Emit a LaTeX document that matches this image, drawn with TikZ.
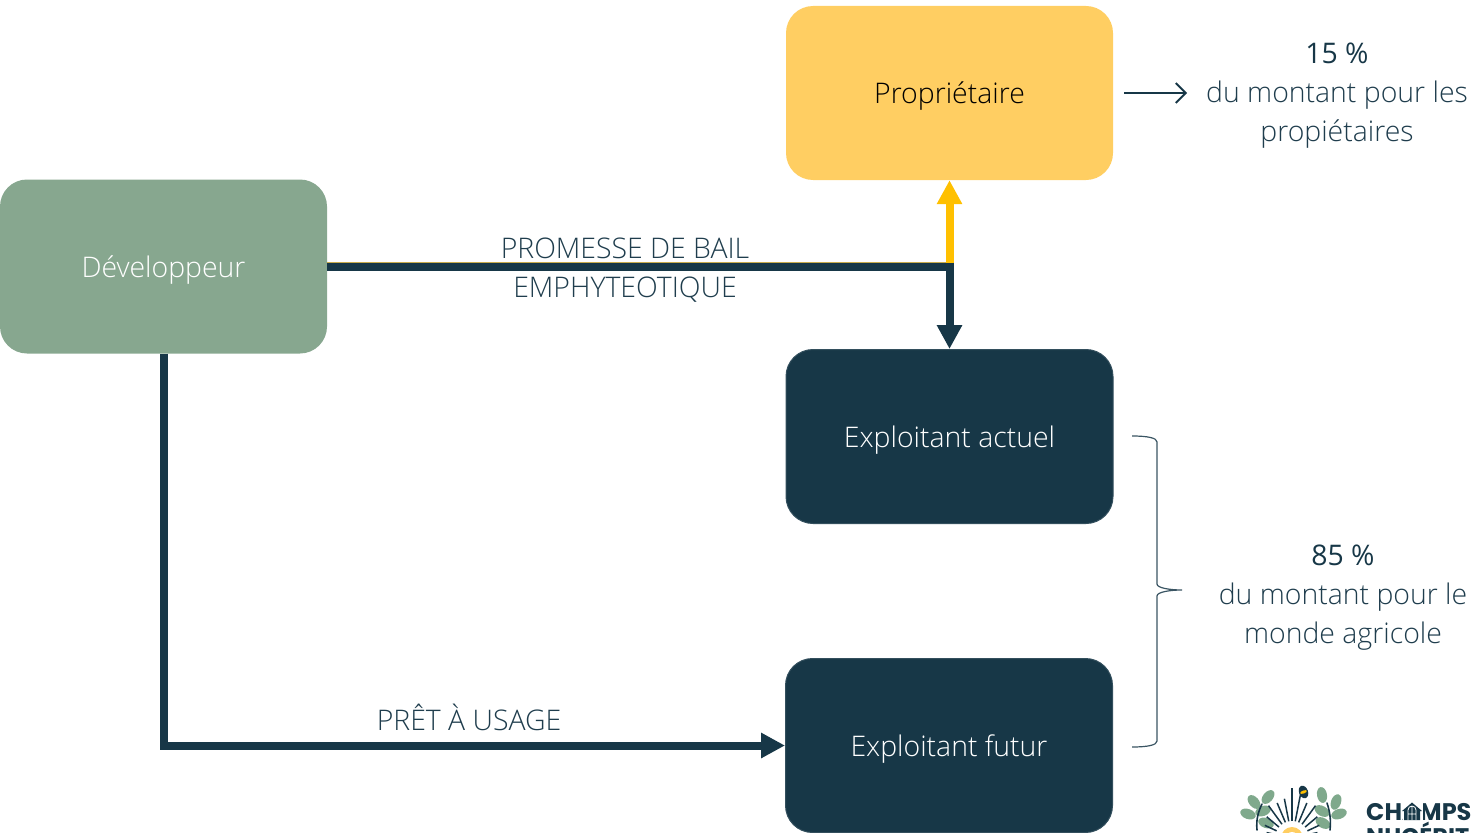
\documentclass[tikz,border=0pt]{standalone}
\usepackage{fontspec}
\setmainfont{Open Sans Light}
\newfontfamily\midfont{Open Sans}
\newfontfamily\logofont{Poppins}[BoldFont={Poppins Bold}]
\usetikzlibrary{arrows.meta,calc}
\definecolor{darkblue}{HTML}{173747}
\definecolor{sage}{HTML}{87A78F}
\definecolor{sun}{HTML}{FFCE62}
\definecolor{amber}{HTML}{FFC000}
\definecolor{inktext}{HTML}{1F3D4D}
\definecolor{leaf}{HTML}{7FA98C}
\tikzset{
  x=1pt,y=-1pt,
  card/.style={minimum width=327pt,minimum height=174pt,rounded corners=27pt,inner sep=0pt,text height=22pt,text depth=0pt,font=\fontsize{28.4}{34}\selectfont},
  label/.style={text=inktext,align=center,font=\fontsize{28.4}{39}\selectfont,inner sep=0pt},
  thick link/.style={line width=8pt,color=darkblue},
  big head/.style={-{Triangle[length=24pt,width=24pt]}},
  brace line/.style={line width=1.2pt,color=darkblue!85},
  leafshape/.style={fill=leaf,draw=none},
}
\begin{document}
\begin{tikzpicture}
\useasboundingbox (0,0) rectangle (1479,832);
\node[card,fill=sage,text=white] (dev) at (163.5,266.5) {Développeur};
\node[card,fill=sun,text=black] (prop) at (949.5,93) {Propriétaire};
\node[card,fill=darkblue,draw=darkblue!88!white,line width=1pt,text=white] (act) at (949.5,436.5) {Exploitant actuel};
\node[card,fill=darkblue,draw=darkblue!88!white,line width=1pt,text=white] (fut) at (949,745.5) {Exploitant futur};
\coordinate (junc) at (prop.south |- dev.east);
\draw[line width=1pt,color=amber!70!black!70] ($(dev.east)+(0,-4)$) -- ($(junc)+(0,-4)$);
\draw[thick link,color=amber,big head] ($(junc)+(0,-4)$) -- (prop.south);
\draw[thick link,big head] ($(junc)+(0,-4)$) -- (act.north);
\draw[thick link] (dev.east) -- ($(junc)+(4,0)$);
\draw[thick link,big head] (dev.south) |- (fut.west);
\coordinate (arrs) at ($(prop.east)+(11,0)$);
\coordinate (arre) at ($(prop.east)+(74,0)$);
\draw[line width=2pt,color=darkblue,-{Straight Barb[length=10pt,width=20pt]}] (arrs) -- (arre);
\node[label,anchor=center] (bail) at (625,270.5) {PROMESSE DE BAIL\\EMPHYTEOTIQUE};
\node[label] (pret) at (469,717) {PRÊT À USAGE};
\node[label] (p15) at (1337,96) {{\midfont\textcolor{darkblue}{15 \%}}\\du montant pour les\\propiétaires};
\node[label] (p85) at (1343,597.5) {{\midfont\textcolor{darkblue}{85 \%}}\\du montant pour le\\monde agricole};
\coordinate (br1) at (1132,436);
\coordinate (br2) at (1132,747);
\coordinate (brt) at (1182,590);
\draw[brace line] (br1) .. controls (1148,436) and (1157,438) .. (1157,442) -- (1157,584)
  .. controls (1157,588) and (1170,590) .. (brt) .. controls (1170,590) and (1157,592) .. (1157,596)
  -- (1157,741) .. controls (1157,745) and (1148,747) .. (br2);
% logo
\begin{scope}
\clip (1230,770) rectangle (1479,832);
\foreach \cx/\cy/\a in {1268/797/50,1254/802/-50,1248/814/-20,1263/811/20,1266/823/-20,1322/795/-80,1336/802/70,1322/811/-30,1339/814/20,1323/823/-30}
  \fill[leafshape,rotate around={\a:(\cx,\cy)}] (\cx,\cy) ellipse [x radius=8pt,y radius=5pt];
\foreach \a/\r in {-78/26,-65/30,-50/33,-36/40,-23/38,-11/46,0/50,11/40,23/38,36/40,50/33,65/30,78/26}
  \draw[darkblue,line width=1.5pt] ($(1292,838)+({90+\a}:17pt)$) -- ($(1292,838)+({90+\a}:\r pt)$);
\draw[darkblue,line width=1.6pt,line cap=round] (1257,830) .. controls (1256,820) and (1258,812) .. (1262,804);
\draw[darkblue,line width=1.6pt,line cap=round] (1330,830) .. controls (1331,820) and (1330,812) .. (1327,803);
\fill[sun] (1292,838) circle (11pt);
\fill[white] (1292,838) circle (6pt);
\fill[darkblue,rotate around={20:(1303.5,792)}] (1303.5,792) ellipse [x radius=4.5pt,y radius=6.5pt];
\fill[amber,rotate around={20:(1303.5,792)}] (1303.5,792) ellipse [x radius=3.5pt,y radius=1.5pt];
\node[anchor=base west,inner sep=0pt,text=darkblue,font=\logofont\bfseries\fontsize{24}{24}\selectfont] (logo1) at (1366,820) {CHAMPS};
\node[anchor=base west,inner sep=0pt,text=darkblue,font=\logofont\bfseries\fontsize{24}{24}\selectfont] (logo2) at (1366,845) {NUCÉRIT};
\fill[white] (1402.5,802) rectangle (1423,821);
\fill[darkblue] (1412,802.5) -- (1422,811) -- (1420,811) -- (1420,820) -- (1404,820) -- (1404,811) -- (1402,811) -- cycle;
\draw[white,line width=.8pt] (1408,820) -- (1408,810) arc[start angle=180,end angle=0,radius=4pt] -- (1416,820) (1412,806) -- (1412,820) (1408,814) -- (1416,814);
\end{scope}
\end{tikzpicture}
\end{document}
